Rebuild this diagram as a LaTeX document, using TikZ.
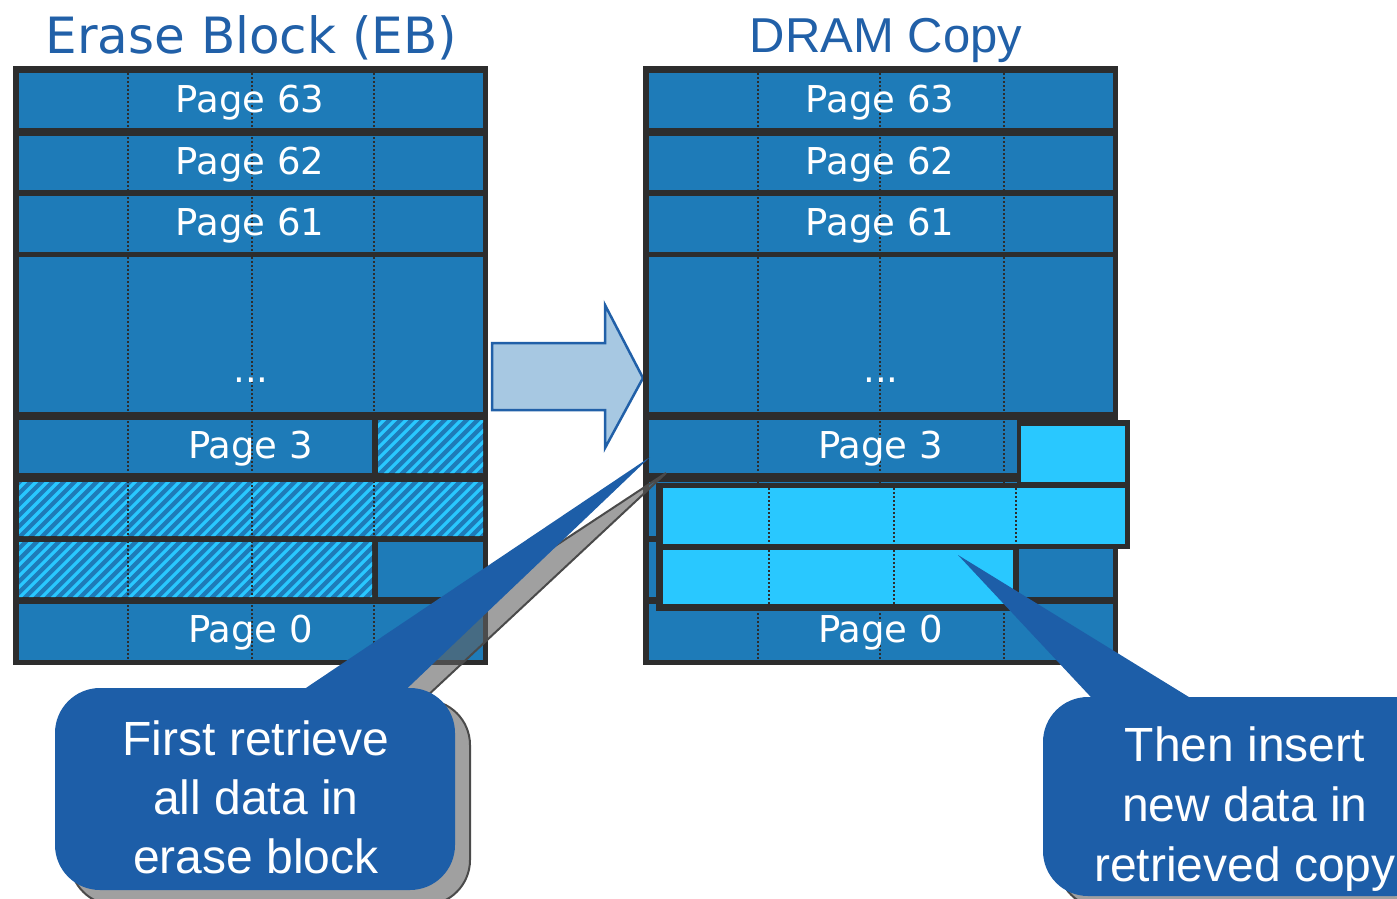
\documentclass[tikz,border=0pt]{standalone}
\usepackage{fontspec}
\newfontfamily\dejavu{DejaVu Sans}
\newfontfamily\arialf{Liberation Sans}
\definecolor{blk}{HTML}{1E7BB8}
\definecolor{cyn}{HTML}{29C8FF}
\definecolor{edgec}{HTML}{2D2D2D}
\definecolor{ttl}{HTML}{2160A8}
\definecolor{bub}{HTML}{1D5EA8}
\definecolor{arrfill}{HTML}{A7C8E2}
\definecolor{shd}{HTML}{616161}
\definecolor{shdedge}{HTML}{4A4A4A}
\tikzset{
  pagelabel/.style={text=white, font=\dejavu\fontsize{37}{44}\selectfont, inner sep=0pt, anchor=base},
  titlelabel/.style={text=ttl, inner sep=0pt, anchor=base},
  dotline/.style={draw=edgec, line width=1.5pt, dash pattern=on 1.5pt off 2.5pt},
  hatchline/.style={draw=cyn, line width=3.2pt},
  bigarrow/.style={fill=arrfill, draw=ttl, line width=2.5pt, line join=miter},
  shadowfill/.style={fill=shd, fill opacity=0.6, draw=shdedge, line width=2pt},
  bubfill/.style={fill=bub},
  bubtext/.style={text=white, font=\arialf\fontsize{48}{59}\selectfont, align=center, inner sep=0pt},
}
\begin{document}
\begin{tikzpicture}[x=1pt,y=-1pt]
\useasboundingbox (0,0) rectangle (1397,898);
\clip (0,0) rectangle (1397,898);

% titles
\node[titlelabel, font=\dejavu\fontsize{50}{60}\selectfont] (ttlEB) at (251.5,53) {Erase Block (EB)};
\node[titlelabel, font=\arialf\fontsize{49}{59}\selectfont] (ttlDR) at (886,52) {DRAM Copy};

% transfer arrow
\draw[bigarrow] (492,343) -- (605,343) -- (605,305) -- (643,378) -- (605,448) -- (605,410) -- (492,410) -- cycle;

% ---------------- left block (erase block) ----------------
\fill[edgec] (13,66) rectangle (488,665);
\fill[blk] (19,73) rectangle (483,128);
\fill[blk] (19,136) rectangle (483,190);
\fill[blk] (19,196) rectangle (483,252);
\fill[blk] (19,257) rectangle (483,412);
\fill[blk] (19,420) rectangle (372,473);
\fill[blk] (378,420) rectangle (483,473);
\fill[blk] (19,482) rectangle (483,536);
\fill[blk] (19,542) rectangle (372,597);
\fill[blk] (378,542) rectangle (483,597);
\fill[blk] (19,604) rectangle (483,660);
\begin{scope}
  \clip (378,420) rectangle (483,473) (19,482) rectangle (483,536) (19,542) rectangle (372,597);
  \foreach \c in {430,441,...,1100} \draw[hatchline] ({\c-610},610) -- ({\c-410},410);
\end{scope}
\foreach \x in {128,252,374} \draw[dotline] (\x,73) -- (\x,660);
\node[pagelabel] (lp63) at (250,112) {Page 63};
\node[pagelabel] (lp62) at (250,174) {Page 62};
\node[pagelabel] (lp61) at (250,235) {Page 61};
\node[pagelabel] (ldots) at (251,382) {...};
\node[pagelabel] (lp3) at (250.5,458) {Page 3};
\node[pagelabel] (lp0) at (250.5,642) {Page 0};

% ---------------- right block (DRAM copy) ----------------
\fill[edgec] (643,66) rectangle (1118,665);
\fill[blk] (649,73) rectangle (1113,128);
\fill[blk] (649,136) rectangle (1113,190);
\fill[blk] (649,196) rectangle (1113,252);
\fill[blk] (649,257) rectangle (1113,412);
\fill[blk] (649,420) rectangle (1113,473);
\fill[blk] (649,482) rectangle (1113,536);
\fill[blk] (649,542) rectangle (1113,597);
\fill[blk] (649,604) rectangle (1113,660);
\foreach \x in {758,880,1004} \draw[dotline] (\x,73) -- (\x,660);
\node[pagelabel] (rp63) at (880,112) {Page 63};
\node[pagelabel] (rp62) at (880,174) {Page 62};
\node[pagelabel] (rp61) at (880,235) {Page 61};
\node[pagelabel] (rdots) at (881,382) {...};
\node[pagelabel] (rp3) at (880.5,458) {Page 3};
\node[pagelabel] (rp0) at (880.5,642) {Page 0};

% new data inserted into the copy
\fill[edgec] (1017,420) rectangle (1130,488);
\fill[edgec] (656,483) rectangle (1130,549);
\fill[edgec] (656,546) rectangle (1019,611);
\fill[cyn] (1021,426) rectangle (1125,482);
\fill[cyn] (663,488) rectangle (1125,544);
\fill[cyn] (663,550) rectangle (1013,604);
\foreach \x in {769,894,1016} \draw[dotline] (\x,488) -- (\x,544);
\foreach \x in {769,894} \draw[dotline] (\x,550) -- (\x,604);

% ---------------- left callout ----------------
\coordinate (tipA) at (650,457);
\coordinate (tipAs) at (666,473);
\path[shadowfill, rounded corners=45pt] (70,700) rectangle (470,905);
\path[shadowfill] (303,712) -- (tipAs) -- (410,712) -- cycle;
\fill[bubfill, rounded corners=45pt] (55,688) rectangle (455,890);
\fill[bubfill] (288,700) -- (tipA) -- (395,700) -- cycle;
\node[bubtext] (calloutA) at (256,797) {First retrieve\\all data in\\erase block};

% ---------------- right callout ----------------
\coordinate (tipB) at (958,555);
\path[shadowfill, rounded corners=45pt] (1058,709) rectangle (1455,908);
\fill[bubfill, rounded corners=45pt] (1043,697) rectangle (1440,896);
\fill[bubfill] (1103,710) -- (tipB) -- (1210,710) -- cycle;
\node[bubtext, font=\arialf\fontsize{48}{60}\selectfont] (calloutB) at (1245,809.5) {Then insert\\new data in\\retrieved copy};
\end{tikzpicture}
\end{document}
